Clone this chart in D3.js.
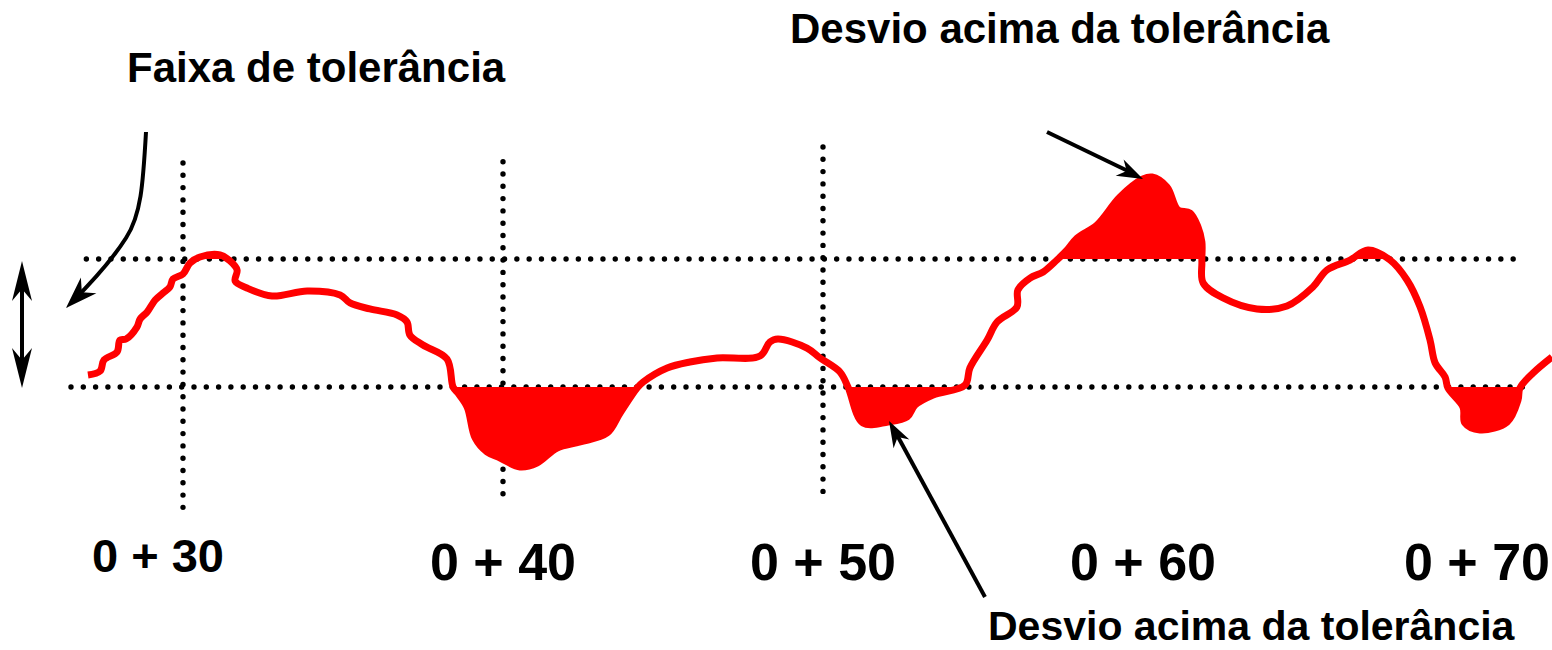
<!DOCTYPE html>
<html>
<head>
<meta charset="utf-8">
<script src="https://cdn.jsdelivr.net/npm/d3@7"></script>
<style>
  body { margin: 0; background: #fff; }
  svg { display: block; }
  text { font-family: "Liberation Sans", Arial, sans-serif; font-weight: bold; fill: #000; }
</style>
</head>
<body>
<script>
// estaca (m) e desvio do perfil (cm)
const stations = [27.03, 27.41, 27.53, 27.94, 28.03, 28.22, 28.56, 28.66, 28.88, 29.13,
  29.38, 29.59, 29.69, 30.00, 30.22, 30.53, 31.16, 31.47, 31.69, 31.63,
  32.00, 32.78, 33.88, 34.91, 35.22, 35.84, 36.69, 37.00, 37.09, 37.50,
  38.25, 38.44, 38.59, 38.88, 39.13, 39.50, 39.91, 40.53, 41.06, 41.69,
  42.41, 43.25, 43.66, 44.19, 44.38, 45.13, 45.84, 46.69, 48.03, 48.34,
  48.59, 49.50, 49.91, 50.53, 50.78, 51.25, 52.03, 52.63, 52.88, 53.44,
  54.44, 54.59, 55.13, 55.44, 56.06, 56.09, 56.47, 56.88, 57.31, 57.63,
  57.94, 58.56, 59.28, 60.00, 60.28, 60.75, 61.09, 61.47, 61.72, 61.84,
  61.84, 61.88, 62.50, 63.56, 64.50, 65.31, 65.75, 66.47, 67.03, 67.72,
  68.25, 68.66, 68.97, 69.13, 69.44, 69.53, 70.00, 70.06, 70.53, 71.38,
  71.72, 71.78, 72.19, 72.78]
const deviation = [-8.13, -7.50, -5.78, -4.53, -2.66, -2.50, -0.63, 0.63, 1.72, 3.59,
  4.69, 5.63, 6.88, 7.66, 9.38, 10.31, 10.63, 9.69, 8.28, 6.56,
  5.47, 4.22, 5.00, 4.38, 3.13, 2.19, 1.25, 0.16, -1.88, -3.44,
  -5.63, -10.00, -10.94, -13.13, -17.97, -20.16, -21.09, -22.50, -21.88, -19.53,
  -18.59, -17.19, -14.06, -10.16, -9.22, -7.03, -6.09, -5.47, -5.16, -2.97,
  -2.50, -3.91, -5.47, -7.66, -10.00, -15.63, -15.47, -14.69, -12.81, -11.25,
  -9.69, -7.03, -2.66, 0.16, 2.50, 5.16, 7.03, 7.97, 9.84, 11.41,
  13.28, 15.31, 19.69, 22.50, 22.81, 21.25, 17.66, 17.19, 15.00, 12.66,
  9.53, 6.25, 3.91, 2.19, 2.66, 5.63, 8.28, 9.84, 11.41, 9.84,
  6.72, 2.50, -2.66, -6.25, -8.44, -10.16, -13.13, -15.63, -16.72, -15.47,
  -12.03, -10.16, -7.81, -5.31]

const tolLower = -10
const tolUpper = 10
const stationTicks = [30, 40, 50, 60, 70]
const tickLabels = ['0 + 30', '0 + 40', '0 + 50', '0 + 60', '0 + 70']
const guideStations = [30, 40, 50]

const W = 1552, H = 650
const x = d3.scaleLinear().domain([30, 40]).range([183, 503])
const y = d3.scaleLinear().domain([tolLower, tolUpper]).range([387, 259])

const svg = d3.select('body').append('svg').attr('width', W).attr('height', H)
const defs = svg.append('defs')
defs.append('clipPath').attr('id', 'below')
  .append('rect').attr('x', 0).attr('y', y(tolLower)).attr('width', W).attr('height', H)
defs.append('clipPath').attr('id', 'above')
  .append('rect').attr('x', 0).attr('y', 0).attr('width', W).attr('height', y(tolUpper))

const profile = stations.map((s, i) => ({ s, v: deviation[i] }))
const curve = d3.curveCatmullRom.alpha(0.5)

// linhas pontilhadas da faixa
const dotted = g => g.attr('stroke', '#000').attr('stroke-width', 5.4)
  .attr('stroke-linecap', 'round').attr('stroke-dasharray', '0 12.3').attr('fill', 'none')
svg.append('line').attr('x1', x(26.98)).attr('x2', x(71.9))
  .attr('y1', y(tolUpper)).attr('y2', y(tolUpper)).call(dotted)
svg.append('line').attr('x1', x(26.5)).attr('x2', x(72.2))
  .attr('y1', y(tolLower)).attr('y2', y(tolLower)).call(dotted)

const guideExtent = [[25, -29.4], [25.2, -27.2], [27.5, -26.6]]
svg.selectAll('line.guide').data(guideStations).enter().append('line')
  .attr('class', 'guide')
  .attr('x1', d => x(d)).attr('x2', d => x(d))
  .attr('y1', (d, i) => y(guideExtent[i][0])).attr('y2', (d, i) => y(guideExtent[i][1]))
  .call(dotted)

// desvios fora da tolerância
const areaLow = d3.area().x(d => x(d.s)).y0(y(tolLower)).y1(d => y(d.v)).curve(curve)
const areaHigh = d3.area().x(d => x(d.s)).y0(y(tolUpper)).y1(d => y(d.v)).curve(curve)
svg.append('path').datum(profile).attr('d', areaLow).attr('fill', '#ff0000').attr('clip-path', 'url(#below)')
svg.append('path').datum(profile).attr('d', areaHigh).attr('fill', '#ff0000').attr('clip-path', 'url(#above)')

const line = d3.line().x(d => x(d.s)).y(d => y(d.v)).curve(curve)
svg.append('path').datum(profile).attr('d', line)
  .attr('fill', 'none').attr('stroke', '#ff0000').attr('stroke-width', 7)
  .attr('stroke-linejoin', 'round')

// setas
function head(tip, from, len, half) {
  const dx = tip[0] - from[0], dy = tip[1] - from[1]
  const d = Math.hypot(dx, dy), ux = dx / d, uy = dy / d
  const bx = tip[0] - ux * len, by = tip[1] - uy * len
  const nx = tip[0] - ux * len * 0.7, ny = tip[1] - uy * len * 0.7
  return `M${tip[0]},${tip[1]}L${bx - uy * half},${by + ux * half}L${nx},${ny}L${bx + uy * half},${by - ux * half}Z`
}
const arrows = svg.append('g')
arrows.append('line').attr('x1', 22).attr('x2', 22).attr('y1', 275).attr('y2', 375)
  .attr('stroke', '#000').attr('stroke-width', 4)
arrows.append('path').attr('d', head([22, 261], [22, 300], 40, 10))
arrows.append('path').attr('d', head([22, 388], [22, 350], 40, 10))

arrows.append('path')
  .attr('d', 'M146,132 C143,185 141,215 126,238 C112,260 92,282 72,302')
  .attr('fill', 'none').attr('stroke', '#000').attr('stroke-width', 4)
arrows.append('path').attr('d', head([66, 308], [86, 288], 32, 11))

arrows.append('line').attr('x1', 1047).attr('y1', 132).attr('x2', 1130).attr('y2', 172)
  .attr('stroke', '#000').attr('stroke-width', 4)
arrows.append('path').attr('d', head([1143, 179], [1047, 132], 26, 9))

arrows.append('line').attr('x1', 985).attr('y1', 597).attr('x2', 897).attr('y2', 435)
  .attr('stroke', '#000').attr('stroke-width', 4)
arrows.append('path').attr('d', head([889, 421], [985, 597], 26, 9))

// estacas
const labelSize = [47, 52, 52, 52, 52]
const labelShift = [-25, 0, 0, 0, 14]
const labelBase = [572, 580, 580, 580, 580]
svg.selectAll('text.tick').data(stationTicks).enter().append('text')
  .attr('class', 'tick')
  .attr('x', (d, i) => x(d) + labelShift[i]).attr('y', (d, i) => labelBase[i])
  .attr('text-anchor', 'middle').attr('font-size', (d, i) => labelSize[i])
  .text((d, i) => tickLabels[i])

svg.append('text').attr('x', 127).attr('y', 82).attr('font-size', 42).text('Faixa de tolerância')
svg.append('text').attr('x', 790).attr('y', 43).attr('font-size', 42).text('Desvio acima da tolerância')
svg.append('text').attr('x', 988).attr('y', 640).attr('font-size', 41).text('Desvio acima da tolerância')
</script>
</body>
</html>
